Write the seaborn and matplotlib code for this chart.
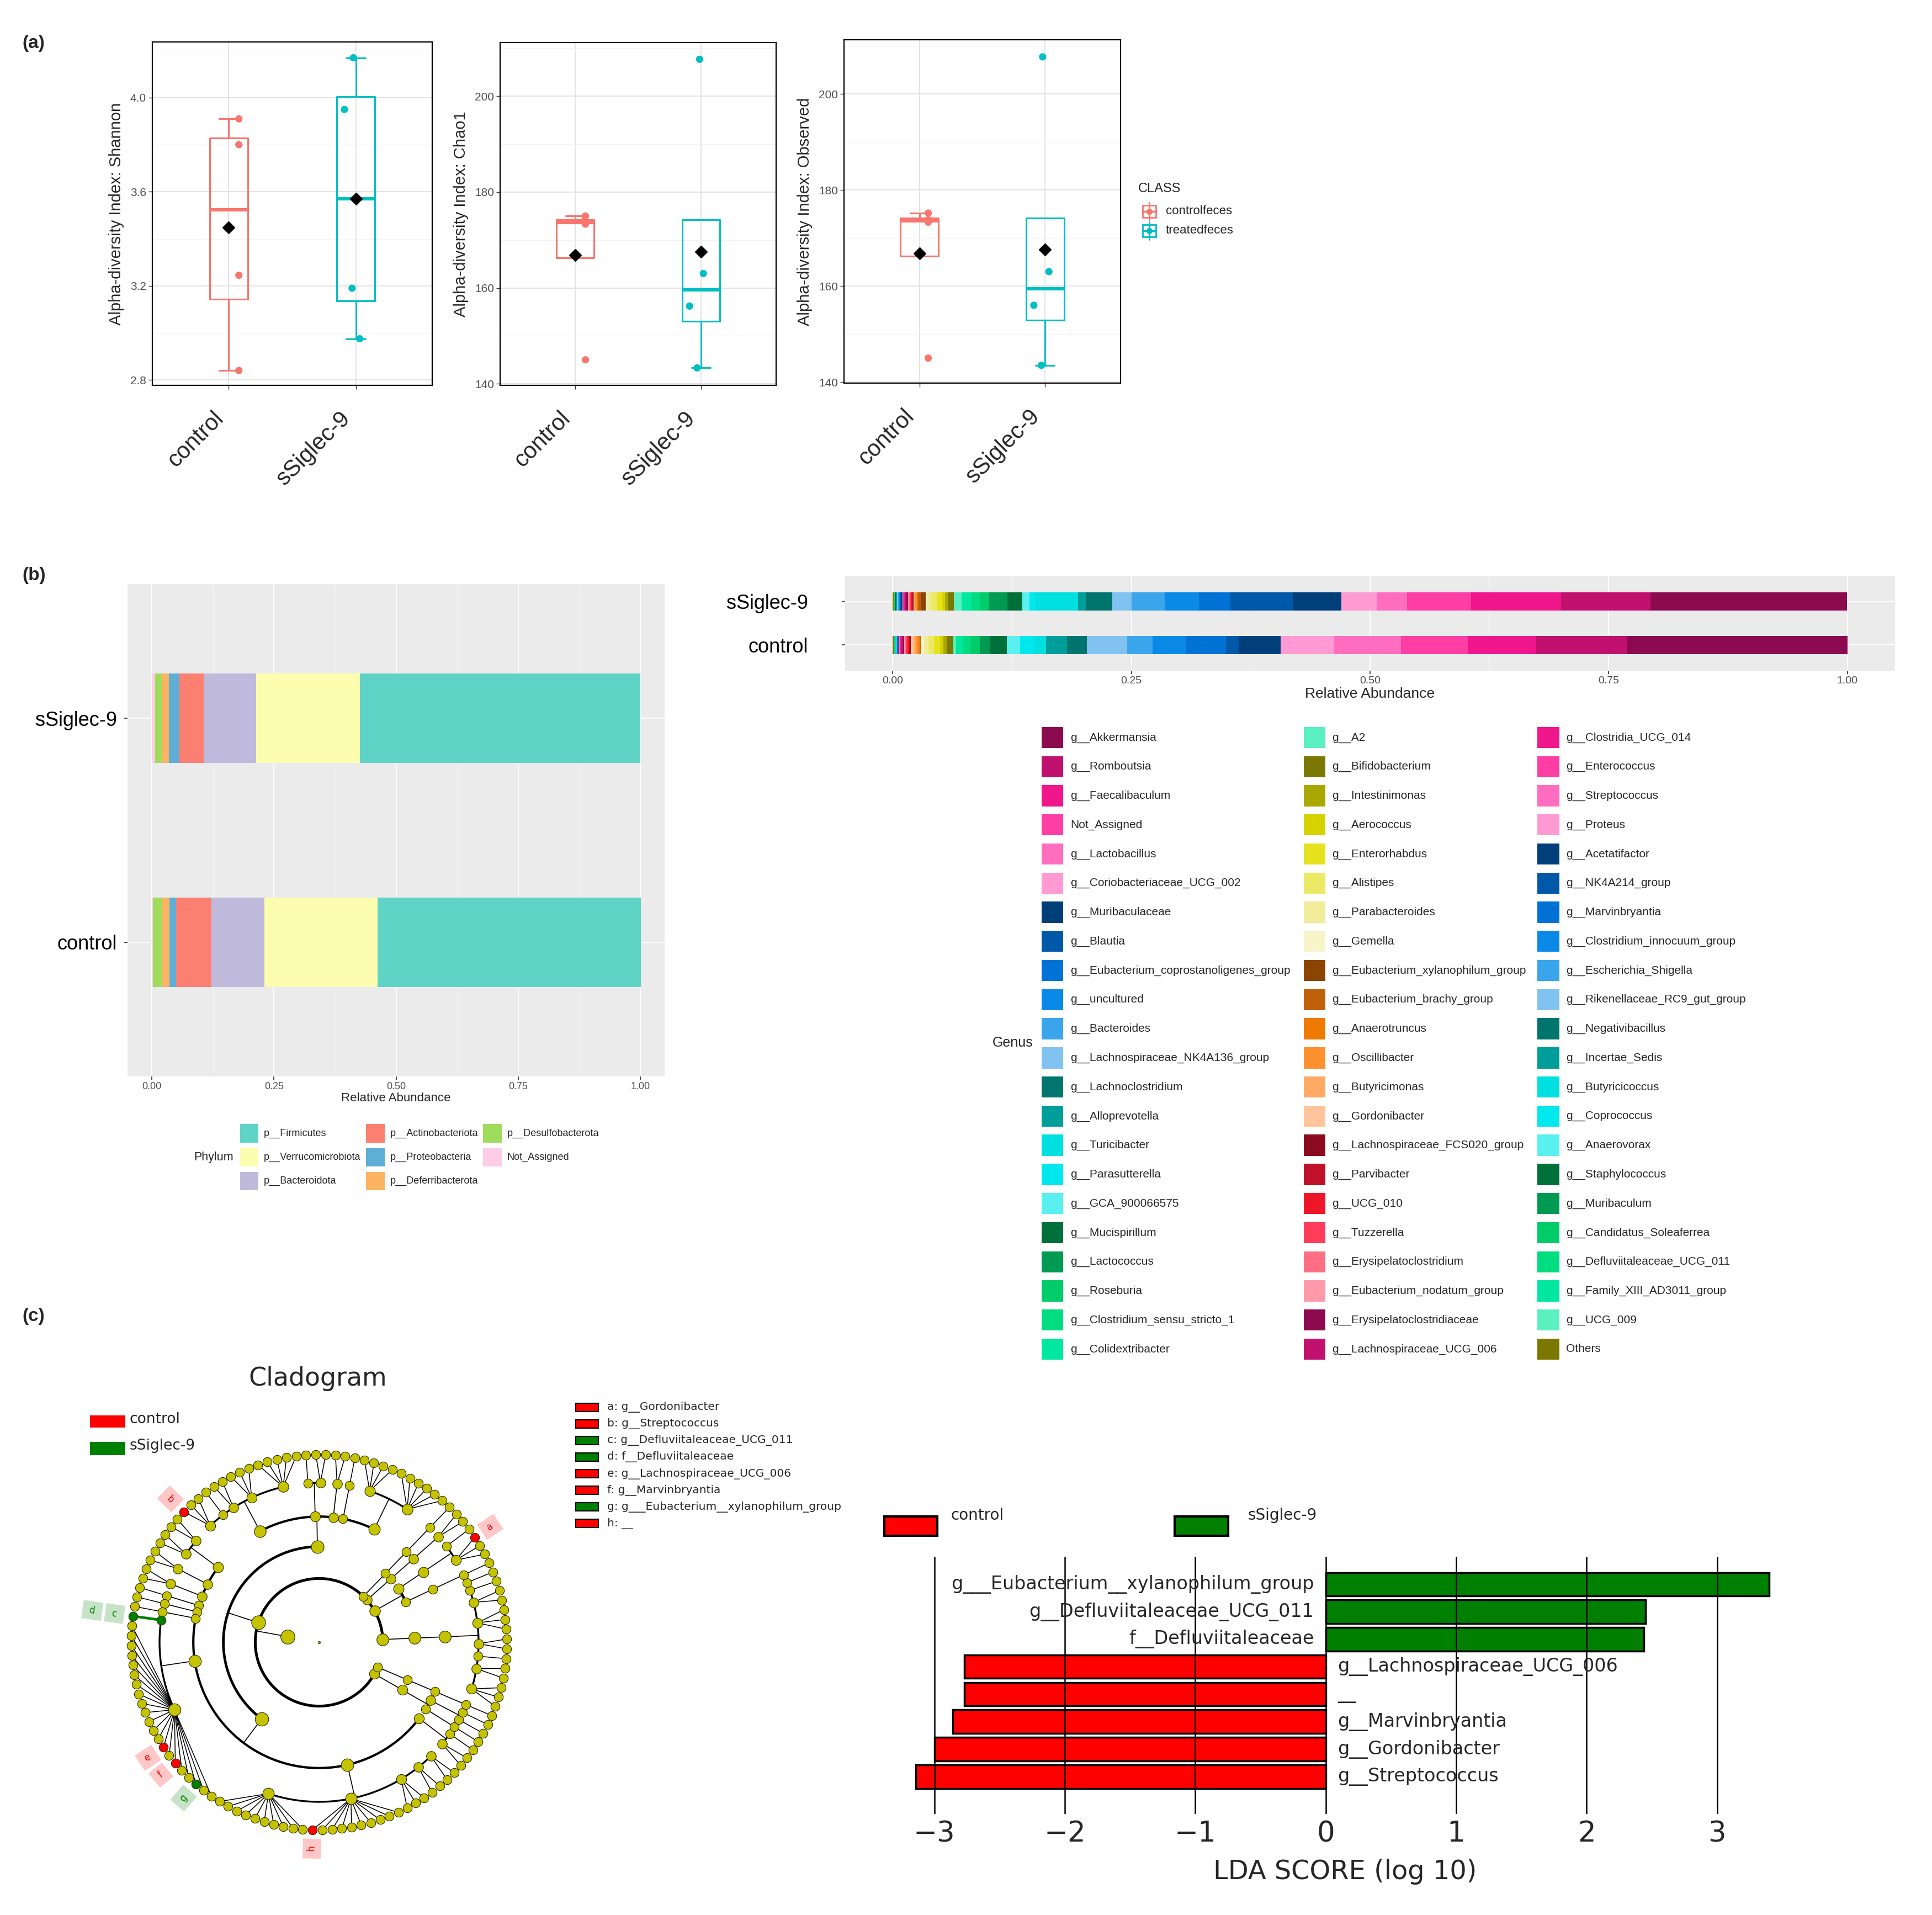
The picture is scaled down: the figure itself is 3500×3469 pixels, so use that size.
import numpy as np
import pandas as pd
import seaborn as sns
import matplotlib.pyplot as plt
from matplotlib.patches import Rectangle
from matplotlib.lines import Line2D
from matplotlib.transforms import ScaledTranslation

# ---------------- data ----------------
groups = ['control', 'sSiglec-9']
class_labels = ['controlfeces', 'treatedfeces']

# (a) alpha diversity, four samples per group
shannon_ctrl = [3.91, 3.80, 3.245, 2.84]
shannon_sig = [4.17, 3.95, 3.19, 2.975]
chao1_ctrl = [175.0, 173.9, 173.3, 145.0]
chao1_sig = [207.7, 163.0, 156.2, 143.3]
observed_ctrl = [175.2, 173.8, 173.3, 145.0]
observed_sig = [207.7, 163.0, 156.0, 143.5]

# (b) phylum level relative abundance (legend order)
phyla = ['p__Firmicutes', 'p__Verrucomicrobiota', 'p__Bacteroidota', 'p__Actinobacteriota',
         'p__Proteobacteria', 'p__Deferribacterota', 'p__Desulfobacterota', 'Not_Assigned']
phylum_ctrl = [0.539, 0.232, 0.108, 0.073, 0.013, 0.015, 0.019, 0.002]
phylum_sig = [0.574, 0.213, 0.107, 0.050, 0.021, 0.015, 0.014, 0.006]

# (b) genus level relative abundance (legend order, column by column)
genus_names = [
    'g__Akkermansia', 'g__Romboutsia', 'g__Faecalibaculum', 'Not_Assigned', 'g__Lactobacillus',
    'g__Coriobacteriaceae_UCG_002', 'g__Muribaculaceae', 'g__Blautia',
    'g__Eubacterium_coprostanoligenes_group', 'g__uncultured', 'g__Bacteroides',
    'g__Lachnospiraceae_NK4A136_group', 'g__Lachnoclostridium', 'g__Alloprevotella', 'g__Turicibacter',
    'g__Parasutterella', 'g__GCA_900066575', 'g__Mucispirillum', 'g__Lactococcus', 'g__Roseburia',
    'g__Clostridium_sensu_stricto_1', 'g__Colidextribacter',
    'g__A2', 'g__Bifidobacterium', 'g__Intestinimonas', 'g__Aerococcus', 'g__Enterorhabdus',
    'g__Alistipes', 'g__Parabacteroides', 'g__Gemella', 'g__Eubacterium_xylanophilum_group',
    'g__Eubacterium_brachy_group', 'g__Anaerotruncus', 'g__Oscillibacter', 'g__Butyricimonas',
    'g__Gordonibacter', 'g__Lachnospiraceae_FCS020_group', 'g__Parvibacter', 'g__UCG_010',
    'g__Tuzzerella', 'g__Erysipelatoclostridium', 'g__Eubacterium_nodatum_group',
    'g__Erysipelatoclostridiaceae', 'g__Lachnospiraceae_UCG_006',
    'g__Clostridia_UCG_014', 'g__Enterococcus', 'g__Streptococcus', 'g__Proteus', 'g__Acetatifactor',
    'g__NK4A214_group', 'g__Marvinbryantia', 'g__Clostridium_innocuum_group', 'g__Escherichia_Shigella',
    'g__Rikenellaceae_RC9_gut_group', 'g__Negativibacillus', 'g__Incertae_Sedis', 'g__Butyricicoccus',
    'g__Coprococcus', 'g__Anaerovorax', 'g__Staphylococcus', 'g__Muribaculum',
    'g__Candidatus_Soleaferrea', 'g__Defluviitaleaceae_UCG_011', 'g__Family_XIII_AD3011_group',
    'g__UCG_009', 'Others']
genus_ctrl = [
    0.231, 0.096, 0.071, 0.070, 0.070, 0.056, 0.044, 0.013, 0.042, 0.035, 0.027,
    0.042, 0.021, 0.022, 0.012, 0.015, 0.014, 0.018, 0.010, 0.010, 0.008, 0.007,
    0.003, 0.0068, 0.0038, 0.003, 0.0066, 0.006, 0.0045, 0.0032, 0.0003, 0.0005, 0.0015,
    0.0024, 0.0028, 0.003, 0.0008, 0.0015, 0.0015, 0.0012, 0.001, 0.0008, 0.0012, 0.0017,
    0.0012, 0.0006, 0.0007, 0.0004, 0.0005, 0.0006, 0.0005, 0.0003, 0.0005, 0.0005, 0.0001,
    0.0002, 0.0002, 0.0001, 0.0001, 0.0002, 0.0006, 0.0001, 0.0002, 0.0002, 0.0001, 0.0013]
genus_sig = [
    0.206, 0.094, 0.094, 0.067, 0.032, 0.037, 0.051, 0.065, 0.033, 0.036, 0.035,
    0.020, 0.028, 0.008, 0.045, 0.006, 0.007, 0.016, 0.019, 0.009, 0.010, 0.010,
    0.0077, 0.0058, 0.0038, 0.003, 0.0058, 0.0058, 0.0038, 0.002, 0.0047, 0.003, 0.0013,
    0.002, 0.001, 0.0005, 0.0005, 0.001, 0.0012, 0.001, 0.0015, 0.0006, 0.0015, 0.0014,
    0.0015, 0.0005, 0.0004, 0.0005, 0.0012, 0.0015, 0.0004, 0.001, 0.0007, 0.0012, 0.0002,
    0.0003, 0.0002, 0.0002, 0.0001, 0.0002, 0.0008, 0.0002, 0.0004, 0.0003, 0.0002, 0.001]

# (c) LEfSe cladogram: phylum > class > order > number of genera per family
clado_tree = [
    [[[3, 2, 1, 2, 3, 2, 1, 1]]],                                         # Bacteroidota
    [[[1]], [[3, 1]]],                                                    # Actinobacteriota
    [[[2]]],                                                              # Desulfobacterota
    [[[1]]],                                                              # Deferribacterota
    [[[6, 4], [1], [2], [2, 1], [5, 3, 2, 1, 3]],                         # Firmicutes: Bacilli
     [[2, 2], [2], [2], [1], [1], [1], [1, 21], [10, 10, 3, 2, 2], [2, 1]]],  # Clostridia
    [[[1], [1, 1]]],                                                      # Proteobacteria
    [[[1]]],                                                              # Verrucomicrobiota
]
clado_letters = ['a', 'b', 'c', 'd', 'e', 'f', 'g', 'h']
clado_paths = [(1, 1, 0, 0, 2), (4, 0, 4, 4, 2), (4, 1, 6, 0, 0), (4, 1, 6, 0),
               (4, 1, 6, 1, 13), (4, 1, 6, 1, 15), (4, 1, 6, 1, 18), (4, 1, 7, 1, 0)]
clado_names = ['g__Gordonibacter', 'g__Streptococcus', 'g__Defluviitaleaceae_UCG_011',
               'f__Defluviitaleaceae', 'g__Lachnospiraceae_UCG_006', 'g__Marvinbryantia',
               'g___Eubacterium__xylanophilum_group', '__']
clado_class = ['control', 'control', 'sSiglec-9', 'sSiglec-9', 'control', 'control', 'sSiglec-9', 'control']

# (c) LDA scores
lda_taxa = ['g___Eubacterium__xylanophilum_group', 'g__Defluviitaleaceae_UCG_011', 'f__Defluviitaleaceae',
            'g__Lachnospiraceae_UCG_006', '__', 'g__Marvinbryantia', 'g__Gordonibacter', 'g__Streptococcus']
lda_scores = [3.40, 2.45, 2.44, -2.77, -2.77, -2.86, -3.00, -3.14]
lda_class = ['sSiglec-9', 'sSiglec-9', 'sSiglec-9', 'control', 'control', 'control', 'control', 'control']

# ---------------- styles ----------------
box_pal = {'control': '#F8766D', 'sSiglec-9': '#00BFC4'}
lefse_pal = {'control': '#FF0000', 'sSiglec-9': '#008000'}
phylum_colors = ['#5FD3C6', '#FDFDB0', '#BFBADB', '#FB8072', '#5EAED6', '#FDB462', '#A0DC5C', '#FCCDE5']
pal42 = ['#8B0A50', '#C0116F', '#F0168C', '#FF3EA5', '#FF6EBE', '#FF9AD2',
         '#003F7A', '#0058A8', '#0072D6', '#0A8AE6', '#3AA5EA', '#82C2F0',
         '#00756E', '#009E9A', '#00E0E0', '#00E8EE', '#5AF0F0',
         '#00703A', '#009A52', '#00CC6A', '#00DD80', '#00E8A0', '#5AF0C0',
         '#7A7800', '#A8A800', '#D6D200', '#E6E21E', '#ECEA64', '#F0EC9A', '#F6F4C8',
         '#8B4500', '#C06008', '#EE7A00', '#FF902E', '#FFAA64', '#FFC49C',
         '#8B0A1E', '#C0102A', '#F0162A', '#FF3C5A', '#FF6E82', '#FF9AAA']
genus_colors = [pal42[i % len(pal42)] for i in range(len(genus_names))]
LEF = 'DejaVu Sans'

W, H = 3500, 3469
sns.set_theme(style='white')
plt.rcParams['font.family'] = ['Liberation Sans', 'DejaVu Sans']
fig = plt.figure(figsize=(W / 100, H / 100), dpi=100)
fig.patch.set_facecolor('white')


def add_ax(x0, y0, x1, y1):
    return fig.add_axes([x0 / W, 1 - y1 / H, (x1 - x0) / W, (y1 - y0) / H])


def ftext(x, y, s, **kw):
    return fig.text(x / W, 1 - y / H, s, **kw)


def frect(x, y, w, h, **kw):
    fig.add_artist(Rectangle((x / W, 1 - (y + h) / H), w / W, h / H, transform=fig.transFigure, **kw))


def key_legend(labels, colors, col_x, y0, pitch, nrow, kw, kh, tdx, fs):
    for i, (lab, c) in enumerate(zip(labels, colors)):
        col, row = divmod(i, nrow)
        yc = y0 + row * pitch
        frect(col_x[col], yc - kh / 2, kw, kh, facecolor=c, edgecolor='none')
        ftext(col_x[col] + tdx, yc, lab, fontsize=fs, va='center')


# ---------------- (a) boxplots ----------------
alpha_panels = [
    ((276, 76, 783, 698), shannon_ctrl, shannon_sig, (2.777, 4.237), [2.8, 3.2, 3.6, 4.0],
     [3.0, 3.4, 3.8, 4.2], 'Shannon', '{:.1f}', [0.08, 0.08, 0.08, 0.08], [-0.02, -0.09, -0.03, 0.03]),
    ((906, 77, 1406, 698), chao1_ctrl, chao1_sig, (139.67, 211.2), [140, 160, 180, 200],
     [150, 170, 190, 210], 'Chao1', '{:.0f}', [0.08, 0.07, 0.08, 0.08], [-0.01, 0.02, -0.09, -0.03]),
    ((1529, 72, 2030, 694), observed_ctrl, observed_sig, (139.8, 211.26), [140, 160, 180, 200],
     [150, 170, 190, 210], 'Observed', '{:.0f}', [0.07, 0.07, 0.07, 0.07], [-0.02, 0.03, -0.09, -0.03]),
]
label_shift = ScaledTranslation(-0.30, -0.05, fig.dpi_scale_trans)
for box, ctrl, sig, ylim, ticks, minor, name, fmt, jc, js in alpha_panels:
    ax = add_ax(*box)
    df = pd.DataFrame({'group': [groups[0]] * len(ctrl) + [groups[1]] * len(sig), 'value': ctrl + sig})
    sns.boxplot(data=df, x='group', y='value', hue='group', order=groups, hue_order=groups,
                palette=box_pal, fill=False, width=0.3, linewidth=2.2, showfliers=False,
                showmeans=True, medianprops=dict(linewidth=4.5),
                meanprops=dict(marker='D', markerfacecolor='black', markeredgecolor='black', markersize=11),
                legend=False, ax=ax)
    for gi, (vals, jit) in enumerate([(ctrl, jc), (sig, js)]):
        ax.scatter(np.array(jit) + gi, vals, s=90, color=box_pal[groups[gi]], edgecolor='none', zorder=5)
    ax.set_xlim(-0.6, 1.6)
    ax.set_ylim(*ylim)
    ax.set_yticks(ticks)
    ax.set_yticklabels([fmt.format(t) for t in ticks])
    ax.set_yticks(minor, minor=True)
    ax.grid(which='major', color='#E3E3E3', lw=1.4)
    ax.grid(which='minor', axis='y', color='#F2F2F2', lw=0.9)
    ax.set_axisbelow(True)
    ax.tick_params(axis='x', bottom=True, length=5, width=1, pad=20, color='#333333')
    ax.tick_params(axis='y', which='major', left=True, length=5, width=1, labelsize=15,
                   labelcolor='#4D4D4D', color='#333333', pad=3)
    ax.tick_params(axis='y', which='minor', left=False)
    ax.set_xticks([0, 1])
    ax.set_xticklabels(groups, rotation=45, ha='right', rotation_mode='anchor', fontsize=30)
    for lab in ax.get_xticklabels():
        lab.set_transform(lab.get_transform() + label_shift)
    ax.set_xlabel('')
    ax.set_ylabel('Alpha-diversity Index: ' + name, fontsize=21, labelpad=8)
    for sp in ax.spines.values():
        sp.set_color('black')
        sp.set_linewidth(1.6)

ftext(2062, 342, 'CLASS', fontsize=17, va='center')
for k, (g, lab) in enumerate(zip(groups, class_labels)):
    yc = 382.6 + k * 35.2
    frect(2070, yc - 11, 24, 22, fill=False, edgecolor=box_pal[g], lw=2)
    fig.add_artist(Line2D([2082 / W] * 2, [1 - (yc - 16) / H, 1 - (yc + 16) / H],
                          color=box_pal[g], lw=2, transform=fig.transFigure))
    fig.add_artist(Line2D([2070 / W, 2094 / W], [1 - yc / H] * 2, color=box_pal[g], lw=2.5,
                          transform=fig.transFigure))
    fig.add_artist(Line2D([2082 / W], [1 - yc / H], marker='o', markersize=7, color=box_pal[g],
                          transform=fig.transFigure))
    ftext(2112, yc, lab, fontsize=16, va='center')


# ---------------- (b) stacked bars ----------------
def stacked_panel(ax, rows, colors, height, tick_fs, label_fs, ypad):
    ax.set_facecolor('#EBEBEB')
    for yi, vals in enumerate(rows):
        left = 0.0
        for v, c in zip(vals[::-1], colors[::-1]):
            ax.barh(yi, v, left=left, height=height, color=c, linewidth=0, zorder=2)
            left += v
    ax.set_xlim(-0.05, 1.05)
    ax.set_ylim(-0.6, 1.6)
    ax.set_xticks([0, 0.25, 0.5, 0.75, 1.0])
    ax.set_xticklabels(['0.00', '0.25', '0.50', '0.75', '1.00'])
    ax.set_xticks([0.125, 0.375, 0.625, 0.875], minor=True)
    ax.set_yticks([0, 1])
    ax.set_yticklabels(groups)
    ax.grid(which='major', color='white', lw=1.3, zorder=1)
    ax.grid(which='minor', axis='x', color='#F5F5F5', lw=0.7, zorder=1)
    ax.set_axisbelow(True)
    for sp in ax.spines.values():
        sp.set_visible(False)
    ax.tick_params(axis='x', which='major', bottom=True, length=4, color='#333333',
                   labelsize=tick_fs, labelcolor='#4D4D4D', pad=3)
    ax.tick_params(axis='x', which='minor', bottom=False)
    ax.tick_params(axis='y', left=True, length=4, color='#333333', labelsize=26, labelcolor='black', pad=ypad)
    ax.set_xlabel('Relative Abundance', fontsize=label_fs, labelpad=2)


ax_p = add_ax(231, 1058, 1204, 1950)
stacked_panel(ax_p, [phylum_ctrl, phylum_sig], phylum_colors, 0.4, 13, 16, 10)
ftext(351, 2096.8, 'Phylum', fontsize=15.5, va='center')
key_legend(phyla, phylum_colors, [434.5, 663, 875], 2053, 43.3, 3, 33.5, 33.5, 43.5, 13)

ax_g = add_ax(1531, 1043, 3433, 1215)
stacked_panel(ax_g, [genus_ctrl, genus_sig], genus_colors, 0.42, 14, 19, 44)
ftext(1798, 1889, 'Genus', fontsize=18, va='center')
key_legend(genus_names, genus_colors, [1887, 2361.7, 2785], 1336, 52.76, 22, 39.5, 38.3, 51.8, 15)

# ---------------- (c) cladogram ----------------
clado_r = [0.0, 0.17, 0.34, 0.51, 0.67, 0.85, 1.0]
arc_lw = {1: 3.6, 2: 3.6, 3: 3.4, 4: 3.0, 5: 2.4}
theta0 = -20.0


def count_leaves(node):
    if isinstance(node, int):
        return node
    return sum(count_leaves(k) for k in node)


step = 360.0 / count_leaves(clado_tree)
state = {'i': 0}
nodes, arcs, links = {}, [], []


def build(node, depth, path):
    if depth == 6:
        th = theta0 + state['i'] * step
        state['i'] += 1
        nodes[path] = (depth, th, 1)
        return th, 1
    kids = [None] * node if isinstance(node, int) else node
    res = [build(k, depth + 1, path + (j,)) for j, k in enumerate(kids)]
    ths = [t for t, _ in res]
    tot = sum(n for _, n in res)
    th = (min(ths) + max(ths)) / 2
    if depth == 5:
        for j, t in enumerate(ths):
            links.append(('fan', th, t, path))
    else:
        arcs.append((depth + 1, min(ths), max(ths)))
        if depth > 0:
            links.append(('radial', th, depth, path))
    nodes[path] = (depth, th, tot)
    return th, tot


build([clado_tree], 0, ())


def pol(r, t):
    t = np.deg2rad(t)
    return r * np.cos(t), r * np.sin(t)


marker_col = {(0,) + p: lefse_pal[c] for p, c in zip(clado_paths, clado_class)}

ax_c = add_ax(119, 2516, 1037, 3434)
ax_c.set_xlim(-1.35, 1.35)
ax_c.set_ylim(-1.35, 1.35)
ax_c.set_aspect('equal')
ax_c.axis('off')
for d, a0, a1 in arcs:
    t = np.linspace(a0, a1, 300)
    x, y = pol(clado_r[d], t)
    ax_c.plot(x, y, color='black', lw=arc_lw[d], solid_capstyle='butt', zorder=1)
for kind, th, extra, path in links:
    if kind == 'radial':
        x0, y0 = pol(clado_r[extra], th)
        x1, y1 = pol(clado_r[extra + 1], th)
        ax_c.plot([x0, x1], [y0, y1], color='black', lw=1.2, zorder=1)
    else:
        x0, y0 = pol(clado_r[5], th)
        x1, y1 = pol(clado_r[6], extra)
        col = marker_col.get(path, 'black')
        ax_c.plot([x0, x1], [y0, y1], color=col, lw=3.4 if path in marker_col else 1.1, zorder=1)
for path, (d, th, tot) in nodes.items():
    x, y = pol(clado_r[d], th)
    s = 8 if d == 0 else 105 + 34 * np.log2(tot + 1)
    ax_c.scatter([x], [y], s=s, color=marker_col.get(path, '#C5C200'), edgecolor='#2A2A00',
                 linewidth=0.8, zorder=3)
for letter, p, c in zip(clado_letters, clado_paths, clado_class):
    d, th, _ = nodes[(0,) + p]
    x, y = pol(1.1 if d == 6 else 1.22, th)
    rot = th if np.cos(np.deg2rad(th)) >= 0 else th - 180
    ax_c.text(x, y, ' ' + letter + ' ', rotation=rot, ha='center', va='center', fontsize=12,
              family=LEF, color=lefse_pal[c], rotation_mode='anchor',
              bbox=dict(boxstyle='square,pad=0.45', fc=lefse_pal[c], ec='none', alpha=0.22), zorder=4)

ftext(575.5, 2497, 'Cladogram', fontsize=33, ha='center', va='center', family=LEF)
frect(163, 2564, 63.5, 22, facecolor=lefse_pal['control'], edgecolor='none')
ftext(234.7, 2571, 'control', fontsize=19, va='center', family=LEF)
frect(163, 2612, 63.5, 23.5, facecolor=lefse_pal['sSiglec-9'], edgecolor='none')
ftext(234.7, 2618.6, 'sSiglec-9', fontsize=19, va='center', family=LEF)
for k, (letter, name, c) in enumerate(zip(clado_letters, clado_names, clado_class)):
    yc = 2549 + k * 30.14
    frect(1043, yc - 7.5, 41, 15, facecolor=lefse_pal[c], edgecolor='black', lw=1.5)
    ftext(1100, yc, letter + ': ' + name, fontsize=14.5, va='center', family=LEF)

# ---------------- (c) LDA bars ----------------
ax_l = add_ax(1598, 2820, 3276, 3286)
lda_df = pd.DataFrame({'taxon': lda_taxa, 'score': lda_scores, 'cls': lda_class})
sns.barplot(data=lda_df, x='score', y='taxon', hue='cls', hue_order=groups, palette=lefse_pal,
            dodge=False, width=0.855, edgecolor='black', linewidth=2.5, errorbar=None,
            saturation=1, legend=False, ax=ax_l)
ax_l.set_xlim(-3.4, 3.7)
ax_l.set_ylim(8.36, -1.0)
ax_l.set_xticks([-3, -2, -1, 0, 1, 2, 3])
ax_l.set_yticks([])
ax_l.xaxis.grid(True, color='black', lw=1.8)
ax_l.set_axisbelow(False)
for sp in ax_l.spines.values():
    sp.set_visible(False)
ax_l.tick_params(axis='x', bottom=False, length=0, labelsize=37, pad=8)
for t in ax_l.get_xticklabels():
    t.set_fontfamily(LEF)
ax_l.set_ylabel('')
ax_l.set_xlabel('LDA SCORE (log 10)', fontsize=34.5, labelpad=14, family=LEF)
for i, (name, sc) in enumerate(zip(lda_taxa, lda_scores)):
    if sc > 0:
        ax_l.text(-0.09, i, name, ha='right', va='center', fontsize=24, family=LEF)
    else:
        ax_l.text(0.09, i, name, ha='left', va='center', fontsize=24, family=LEF)
frect(1602, 2747, 96, 35, facecolor=lefse_pal['control'], edgecolor='black', lw=3)
ftext(1723, 2745, 'control', fontsize=20, va='center', family=LEF)
frect(2128, 2747, 97, 35, facecolor=lefse_pal['sSiglec-9'], edgecolor='black', lw=3)
ftext(2261, 2745, 'sSiglec-9', fontsize=20, va='center', family=LEF)

# panel labels
for lab, y in [('(a)', 78), ('(b)', 1043), ('(c)', 2385)]:
    ftext(40, y, lab, fontsize=24, fontweight='bold', va='center')

fig.savefig('out.png', dpi=100)
